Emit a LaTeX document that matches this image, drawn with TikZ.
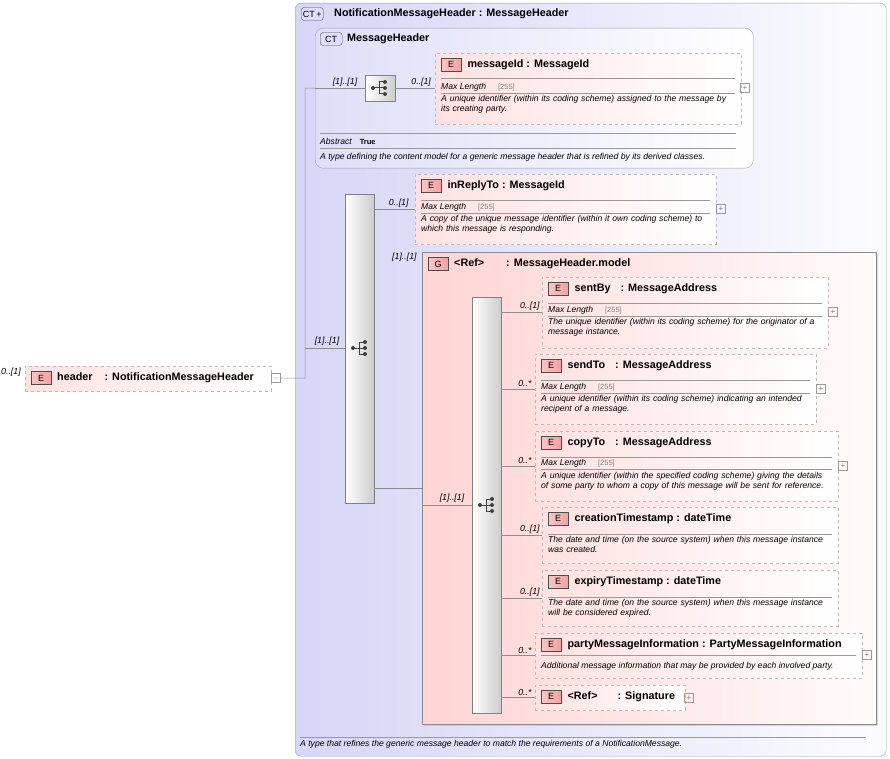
\documentclass[tikz,border=0pt]{standalone}
\usepackage{fontspec}
\setmainfont{Liberation Sans}
\usetikzlibrary{calc,shadows}
\definecolor{lav}{HTML}{D6D6F7}
\definecolor{lavb}{HTML}{9A9AB0}
\definecolor{pinkL}{HTML}{FFD4D4}
\definecolor{ebord}{HTML}{B8B8B8}
\definecolor{badge}{HTML}{F4A0A0}
\tikzset{
 x=1pt,y=-1pt,
 ebox/.style={draw=ebord,dashed,left color=pinkL!70,right color=white,rectangle,inner sep=0},
 ebadge/.style={draw=black!70,fill=badge,left color=badge!60,right color=badge,minimum width=20pt,minimum height=13pt,inner sep=0,font=\fontsize{9}{9}\selectfont},
 cbadge/.style={draw=black!70,rounded corners=3pt,fill=lav!80!blue!40,minimum width=22pt,minimum height=13pt,inner sep=0,font=\fontsize{9}{9}\selectfont},
 ttl/.style={font=\fontsize{10.8}{11}\bfseries\selectfont,inner sep=0},
 sm/.style={font=\fontsize{8.6}{10.5}\itshape\selectfont,inner sep=0,align=left},
 card/.style={font=\fontsize{8.8}{9}\itshape\selectfont,inner sep=0},
 ln/.style={draw=black!45,line width=0.5pt},
 sep/.style={draw=black!40,line width=0.5pt},
 seqbar/.style={draw=black!50,left color=white,right color=black!20,inner sep=0},
 plus/.style={draw=black!40,minimum size=9pt,inner sep=0,font=\fontsize{8}{8}\selectfont,text=black!50},
}
\newcommand\seqicon[1]{%
 \begin{scope}[shift={(#1)},x=1pt,y=-1pt,fill=black!75,draw=black!75,line width=1pt]
 \draw (-7,0)--(-1,0) (-1,-6)--(-1,6) (-1,-6)--(5,-6) (-1,0)--(5,0) (-1,6)--(5,6);
 \fill (-7,0) circle (2) (5,-6) circle (2) (5,0) circle (2) (5,6) circle (2);
 \end{scope}}
\newcommand\ebx[6]{%
 \node[ebox,minimum width=#4pt,minimum height=#5pt,anchor=north west] (#1) at (#2,#3) {};
 \node[ebadge,anchor=north west] (#1b) at ($(#1.north west)+(6,5)$) {E};
 \node[ttl,anchor=west] (#1t) at ($(#1b.east)+(6,0)$) {#6};}
\newcommand\mlen[4]{% x1 x2 ytop label-y
 \draw[sep] (#1,#3)--(#2,#3);
 \node[sm,anchor=west] at (#1,#4) {Max Length\hspace{12pt}{\color{black!50}\upshape\fontsize{7.5}{8}\selectfont[255]}};
 \draw[sep] (#1,#4+6)--(#2,#4+6);}
\begin{document}
\begin{tikzpicture}
\useasboundingbox (0,0) rectangle (890,759);
\fill[white] (0,0) rectangle (890,759);
% outer CT
\node[draw=lavb,rounded corners=6pt,left color=lav,right color=white!92!lav,minimum width=591pt,minimum height=753pt,anchor=north west,inner sep=0] (outer) at (295,3) {};
\node[cbadge,anchor=west] (outerb) at (301,14) {CT\,+};
\node[ttl,anchor=west] (outert) at (334,14) {NotificationMessageHeader : MessageHeader};
\draw[sep] (300,737)--(866,737);
\node[sm,anchor=west] (outerd) at (300,744) {A type that refines the generic message header to match the requirements of a NotificationMessage.};
% inner CT
\node[draw=lavb,rounded corners=8pt,left color=lav!80,right color=white,minimum width=438pt,minimum height=140pt,anchor=north west,inner sep=0] (mh) at (315,28) {};
\node[cbadge,anchor=west] (mhb) at (320,39) {CT};
\node[ttl,anchor=west] (mht) at (347,39) {MessageHeader};
\node[seqbar,minimum width=30pt,minimum height=26pt,anchor=north west] (seq0) at (365,75) {};
\seqicon{380,88}
\ebx{mid}{435}{53}{306}{71}{messageId : MessageId}
\mlen{441}{735}{78}{87}
\node[sm,anchor=north west,text width=300pt] (midd) at (441,95) {A unique identifier (within its coding scheme) assigned to the message by\\its creating party.};
\node[plus] (midp) at (745,88) {+};
\draw[sep] (320,133)--(736,133);
\node[sm,anchor=west] (abs) at (320,141) {Abstract\hspace{8pt}{\upshape\bfseries\fontsize{7.5}{8}\selectfont True}};
\draw[sep] (320,148)--(736,148);
\node[sm,anchor=west] (mhd) at (320,157) {A type defining the content model for a generic message header that is refined by its derived classes.};
\draw[ln] (mh.west|-seq0) -- (seq0.west) node[card,pos=0.6,above=2pt] {[1]..[1]};
\draw[ln] (seq0.east) -- (mid.west|-seq0) node[card,pos=0.65,above=2pt] {0..[1]};
% header element
\node[ebox,minimum width=246pt,minimum height=25pt,anchor=north west] (hdr) at (25,366) {};
\node[ebadge,anchor=west] (hdrb) at (31,378) {E};
\node[ttl,anchor=west] (hdrt) at (57,378) {header\hspace{12pt}: NotificationMessageHeader};
\node[plus] (hdrp) at (276,378) {$-$};
\node[card,anchor=west] (hdrc) at (1,372) {0..[1]};
% big sequence
\node[seqbar,minimum width=29pt,minimum height=309pt,anchor=north west] (seq1) at (345,194) {};
\seqicon{360,348}
\coordinate (j) at (305,378);
\draw[ln] (hdrp.east) -- (j) -- (305,88) -- (mh.west|-seq0);
\draw[ln] (305,348) -- (seq1.west|-0,348) node[card,pos=0.55,above=2pt] {[1]..[1]};
% inReplyTo
\ebx{irt}{415}{174}{301}{70}{inReplyTo : MessageId}
\mlen{421}{710}{200}{207}
\node[sm,anchor=north west,text width=300pt] (irtd) at (421,215) {A copy of the unique message identifier (within it own coding scheme) to\\which this message is responding.};
\node[plus] (irtp) at (721,209) {+};
\draw[ln] (seq1.east|-irt) -- (irt.west) node[card,pos=0.6,above=2pt] {0..[1]};
% group
\node[draw=black!45,left color=pinkL,right color=white!90!pinkL,minimum width=454pt,minimum height=472pt,anchor=north west,inner sep=0,drop shadow={shadow xshift=2pt,shadow yshift=-2pt,fill=black!30}] (grp) at (422,252) {};
\node[ebadge,anchor=west] (grpb) at (428,264) {G};
\node[ttl,anchor=west] (grpt) at (454,264) {<Ref>\hspace{22pt}: MessageHeader.model};
\node[card,anchor=west] (grpc) at (392,257) {[1]..[1]};
\draw[ln] (seq1.east|-0,488) -- (grp.west|-0,488);
\node[seqbar,minimum width=29pt,minimum height=416pt,anchor=north west] (seq2) at (472,297) {};
\seqicon{487,505}
\draw[ln] (grp.west|-0,505) -- (seq2.west|-0,505) node[card,pos=0.6,above=2pt] {[1]..[1]};
% children
\ebx{sb}{542}{277}{286}{71}{sentBy\hspace{10pt}: MessageAddress}
\mlen{548}{822}{303}{310}
\node[sm,anchor=north west,text width=290pt] at (548,318) {The unique identifier (within its coding scheme) for the originator of a\\message instance.};
\node[plus] (sbp) at (833,312) {+};
\ebx{st}{535}{354}{281}{70}{sendTo\hspace{10pt}: MessageAddress}
\mlen{541}{810}{380}{387}
\node[sm,anchor=north west,text width=290pt] at (541,395) {A unique identifier (within its coding scheme) indicating an intended\\recipent of a message.};
\node[plus] (stp) at (821,389) {+};
\ebx{ct}{535}{431}{303}{70}{copyTo\hspace{10pt}: MessageAddress}
\mlen{541}{832}{457}{463}
\node[sm,anchor=north west,text width=300pt] at (541,472) {A unique identifier (within the specified coding scheme) giving the details\\of some party to whom a copy of this message will be sent for reference.};
\node[plus] (ctp) at (843,466) {+};
\ebx{cr}{542}{507}{296}{56}{creationTimestamp : dateTime}
\draw[sep] (548,534)--(832,534);
\node[sm,anchor=north west,text width=290pt] at (548,536) {The date and time (on the source system) when this message instance\\was created.};
\ebx{ex}{542}{570}{296}{56}{expiryTimestamp : dateTime}
\draw[sep] (548,597)--(832,597);
\node[sm,anchor=north west,text width=290pt] at (548,599) {The date and time (on the source system) when this message instance\\will be considered expired.};
\ebx{pm}{535}{633}{327}{45}{partyMessageInformation : PartyMessageInformation}
\draw[sep] (541,655)--(856,655);
\node[sm,anchor=west] at (541,666) {Additional message information that may be provided by each involved party.};
\node[plus] (pmp) at (867,655) {+};
\ebx{sg}{535}{685}{150}{25}{<Ref>\hspace{20pt}: Signature}
\node[plus] (sgp) at (689,698) {+};
\draw[ln] (seq2.east|-sb) -- (sb.west) node[card,pos=0.7,above=2pt] {0..[1]};
\draw[ln] (seq2.east|-st) -- (st.west) node[card,pos=0.7,above=2pt] {0..*};
\draw[ln] (seq2.east|-ct) -- (ct.west) node[card,pos=0.7,above=2pt] {0..*};
\draw[ln] (seq2.east|-cr) -- (cr.west) node[card,pos=0.7,above=2pt] {0..[1]};
\draw[ln] (seq2.east|-ex) -- (ex.west) node[card,pos=0.7,above=2pt] {0..[1]};
\draw[ln] (seq2.east|-pm) -- (pm.west) node[card,pos=0.7,above=2pt] {0..*};
\draw[ln] (seq2.east|-sg) -- (sg.west) node[card,pos=0.7,above=2pt] {0..*};
\end{tikzpicture}
\end{document}
